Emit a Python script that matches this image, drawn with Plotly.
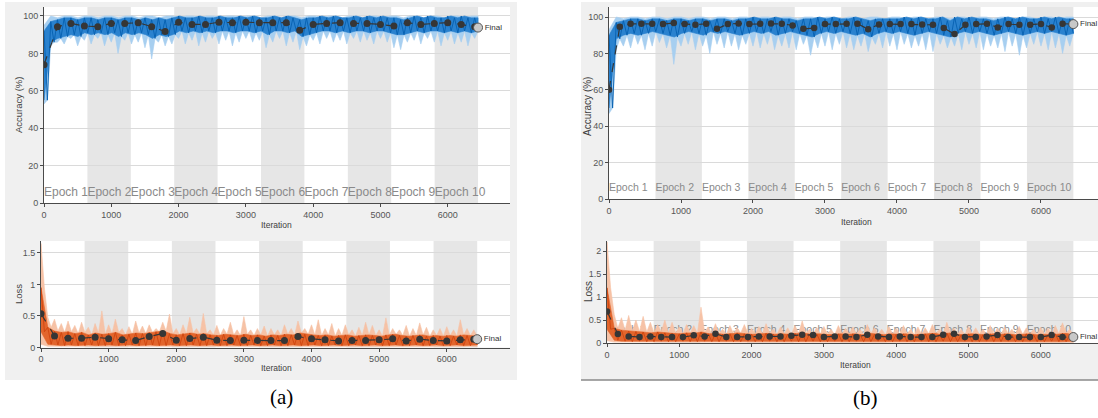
import plotly.graph_objects as go

W, H = 1098, 418
EPOCH_LEN = 645          # iterations per epoch
FINAL_ITER = 6450

epoch_labels = [f"Epoch {i}" for i in range(1, 11)]
x_ticks = [0, 1000, 2000, 3000, 4000, 5000, 6000]
acc_ticks = [0, 20, 40, 60, 80, 100]
loss_ticks_a = [0, 0.5, 1, 1.5]
loss_ticks_b = [0, 0.5, 1, 1.5, 2]

# ---------------- validation points ----------------
val_step_a = 200
val_acc_a = [73.9, 94.3, 96.0, 94.6, 94.3, 96.0, 96.0, 96.4, 94.3, 91.7,
             96.7, 95.5, 95.5, 96.7, 96.4, 96.7, 96.4, 96.4, 96.4, 92.4,
             95.5, 96.0, 96.4, 96.0, 96.0, 95.5, 94.6, 96.4, 95.5, 96.0,
             96.4, 95.5, 94.3]
final_acc_a = 93.8
val_loss_a = [0.537, 0.184, 0.147, 0.147, 0.163, 0.137, 0.121, 0.110, 0.174, 0.221,
              0.116, 0.142, 0.163, 0.116, 0.110, 0.116, 0.110, 0.110, 0.110, 0.174,
              0.137, 0.121, 0.105, 0.110, 0.110, 0.121, 0.137, 0.105, 0.132, 0.110,
              0.105, 0.121, 0.132]
final_loss_a = 0.132

val_step_b = 150
val_acc_b = [60.0, 94.7, 96.3, 96.3, 96.3, 96.1, 96.7, 96.1, 95.7, 96.3,
             93.5, 96.1, 96.5, 96.1, 96.3, 96.5, 96.3, 95.4, 93.5, 93.9,
             96.1, 96.1, 96.3, 96.3, 93.3, 95.9, 96.1, 96.1, 96.1, 95.9,
             95.7, 93.9, 90.6, 95.7, 96.1, 96.3, 94.3, 96.1, 95.7, 95.7,
             96.1, 94.3, 96.3]
final_acc_b = 96.1
val_loss_b = [0.686, 0.195, 0.144, 0.130, 0.144, 0.130, 0.130, 0.130, 0.166, 0.144,
              0.202, 0.130, 0.130, 0.130, 0.144, 0.144, 0.144, 0.159, 0.180, 0.173,
              0.130, 0.144, 0.144, 0.130, 0.180, 0.144, 0.130, 0.144, 0.130, 0.130,
              0.130, 0.180, 0.202, 0.130, 0.130, 0.144, 0.173, 0.130, 0.130, 0.130,
              0.130, 0.173, 0.130]
final_loss_b = 0.130

# ---------------- training envelopes (65 bins over the run) ----------------
acc_a_raw_lo = [53, 84, 86, 85, 88, 84, 87, 85, 88, 84,
                86, 80, 87, 85, 86, 83, 77, 86, 84, 85,
                88, 85, 87, 84, 86, 88, 85, 87, 84, 86,
                88, 86, 87, 83, 86, 88, 84, 86, 82, 84,
                87, 85, 88, 86, 87, 85, 88, 86, 87, 85,
                88, 86, 83, 82, 86, 87, 85, 88, 86, 84,
                87, 85, 86, 84, 88]
acc_a_raw_hi = [95, 100, 99, 100, 100, 99, 100, 100, 99, 100,
                100, 99, 100, 100, 99, 100, 100, 99, 100, 100,
                99, 100, 100, 99, 100, 100, 99, 100, 100, 99,
                100, 100, 99, 100, 100, 99, 100, 100, 99, 100,
                100, 99, 100, 100, 99, 100, 100, 99, 100, 100,
                99, 100, 100, 99, 100, 100, 99, 100, 100, 99,
                100, 100, 99, 100, 100]
acc_a_sm_lo = [55, 86, 88, 89, 90, 89, 91, 90, 91, 90,
               91, 89, 91, 90, 91, 90, 88, 90, 89, 90,
               92, 91, 92, 91, 92, 91, 92, 92, 91, 92,
               92, 91, 92, 90, 92, 92, 91, 92, 89, 90,
               91, 92, 92, 91, 92, 91, 92, 92, 91, 92,
               92, 91, 90, 90, 91, 92, 91, 92, 92, 91,
               92, 91, 92, 91, 92]
acc_a_sm_hi = [92, 97, 98, 99, 99, 98, 99, 99, 98, 99,
               99, 98, 99, 99, 98, 99, 98, 99, 98, 99,
               100, 99, 99, 100, 99, 99, 100, 99, 99, 100,
               99, 100, 99, 99, 100, 99, 100, 99, 98, 99,
               99, 100, 99, 100, 99, 99, 100, 99, 100, 99,
               100, 99, 99, 98, 99, 100, 99, 100, 99, 99,
               100, 99, 100, 99, 99]

loss_a_raw_hi = [1.65, 0.48, 0.45, 0.38, 0.42, 0.35, 0.40, 0.32, 0.38, 0.58,
                 0.36, 0.45, 0.30, 0.33, 0.42, 0.34, 0.36, 0.30, 0.40, 0.53,
                 0.30, 0.36, 0.48, 0.30, 0.54, 0.28, 0.35, 0.30, 0.40, 0.28,
                 0.49, 0.28, 0.30, 0.34, 0.30, 0.28, 0.36, 0.30, 0.42, 0.30,
                 0.36, 0.44, 0.30, 0.38, 0.30, 0.36, 0.28, 0.32, 0.40, 0.35,
                 0.28, 0.47, 0.30, 0.28, 0.35, 0.30, 0.39, 0.32, 0.28, 0.30,
                 0.33, 0.28, 0.44, 0.30, 0.28]
loss_a_raw_lo = [0.05, 0.02, 0.01, 0.02, 0.01, 0.01, 0.02, 0.01, 0.01, 0.02,
                 0.01, 0.01, 0.02, 0.01, 0.01, 0.02, 0.01, 0.01, 0.02, 0.01,
                 0.01, 0.02, 0.01, 0.01, 0.02, 0.01, 0.01, 0.02, 0.01, 0.01,
                 0.02, 0.01, 0.01, 0.02, 0.01, 0.01, 0.02, 0.01, 0.01, 0.02,
                 0.01, 0.01, 0.02, 0.01, 0.01, 0.02, 0.01, 0.01, 0.02, 0.01,
                 0.01, 0.02, 0.01, 0.01, 0.02, 0.01, 0.01, 0.02, 0.01, 0.01,
                 0.02, 0.01, 0.01, 0.02, 0.01]
loss_a_sm_hi = [0.95, 0.32, 0.26, 0.24, 0.25, 0.22, 0.24, 0.20, 0.23, 0.21,
                0.22, 0.24, 0.20, 0.21, 0.23, 0.22, 0.24, 0.25, 0.26, 0.22,
                0.20, 0.22, 0.23, 0.21, 0.22, 0.20, 0.19, 0.21, 0.20, 0.19,
                0.21, 0.19, 0.20, 0.18, 0.20, 0.19, 0.21, 0.20, 0.23, 0.21,
                0.20, 0.19, 0.20, 0.18, 0.19, 0.20, 0.18, 0.19, 0.20, 0.19,
                0.18, 0.20, 0.21, 0.19, 0.18, 0.19, 0.20, 0.18, 0.19, 0.18,
                0.19, 0.18, 0.20, 0.19, 0.18]
loss_a_sm_lo = [0.25, 0.05, 0.04, 0.03, 0.04, 0.03, 0.03, 0.04, 0.03, 0.03,
                0.04, 0.03, 0.03, 0.04, 0.03, 0.03, 0.04, 0.03, 0.03, 0.04,
                0.03, 0.03, 0.04, 0.03, 0.03, 0.04, 0.03, 0.03, 0.04, 0.03,
                0.03, 0.04, 0.03, 0.03, 0.04, 0.03, 0.03, 0.04, 0.03, 0.03,
                0.04, 0.03, 0.03, 0.04, 0.03, 0.03, 0.04, 0.03, 0.03, 0.04,
                0.03, 0.03, 0.04, 0.03, 0.03, 0.04, 0.03, 0.03, 0.04, 0.03,
                0.03, 0.04, 0.03, 0.03, 0.04]

acc_b_raw_lo = [47, 82, 84, 83, 85, 82, 84, 86, 83, 74,
                84, 85, 82, 84, 80, 85, 83, 84, 82, 85,
                84, 83, 85, 82, 84, 83, 82, 85, 79, 83,
                84, 82, 85, 83, 82, 84, 81, 85, 83, 84,
                82, 85, 83, 84, 82, 81, 85, 83, 84, 82,
                85, 83, 82, 84, 83, 81, 84, 79, 83, 85,
                84, 82, 83, 80, 84]
acc_b_raw_hi = [93, 100, 99, 100, 100, 99, 100, 100, 99, 100,
                100, 99, 100, 100, 99, 100, 100, 99, 100, 100,
                99, 100, 100, 99, 100, 100, 99, 100, 100, 99,
                100, 100, 99, 100, 100, 99, 100, 100, 99, 100,
                100, 99, 100, 100, 99, 100, 100, 99, 100, 100,
                99, 100, 100, 99, 100, 100, 99, 100, 100, 99,
                100, 100, 99, 100, 100]
acc_b_sm_lo = [50, 88, 90, 91, 90, 91, 92, 91, 90, 89,
               91, 92, 91, 90, 92, 91, 92, 91, 90, 91,
               92, 91, 92, 90, 91, 92, 91, 90, 89, 91,
               92, 91, 92, 91, 90, 91, 89, 91, 92, 91,
               92, 91, 90, 91, 92, 91, 90, 89, 91, 92,
               91, 92, 91, 90, 91, 92, 91, 90, 91, 92,
               91, 92, 91, 90, 91]
acc_b_sm_hi = [90, 97, 98, 99, 99, 98, 99, 99, 98, 99,
               99, 98, 99, 99, 98, 99, 99, 98, 99, 99,
               100, 99, 99, 100, 99, 99, 98, 99, 99, 100,
               99, 100, 99, 99, 100, 99, 98, 99, 99, 99,
               99, 100, 99, 100, 99, 99, 100, 98, 100, 99,
               100, 99, 99, 98, 99, 100, 99, 100, 99, 99,
               100, 99, 100, 99, 99]

loss_b_raw_hi = [2.20, 0.62, 0.55, 0.60, 0.50, 0.58, 0.45, 0.40, 0.50, 0.45,
                 0.35, 0.40, 0.38, 0.78, 0.35, 0.42, 0.30, 0.38, 0.33, 0.40,
                 0.32, 0.36, 0.42, 0.30, 0.35, 0.33, 0.38, 0.48, 0.30, 0.34,
                 0.36, 0.30, 0.38, 0.32, 0.35, 0.30, 0.40, 0.33, 0.30, 0.36,
                 0.32, 0.38, 0.30, 0.35, 0.33, 0.40, 0.30, 0.45, 0.32, 0.30,
                 0.36, 0.33, 0.30, 0.38, 0.32, 0.35, 0.30, 0.36, 0.33, 0.30,
                 0.34, 0.32, 0.38, 0.44, 0.30]
loss_b_raw_lo = [0.05, 0.02, 0.01, 0.02, 0.01, 0.01, 0.02, 0.01, 0.01, 0.02,
                 0.01, 0.01, 0.02, 0.01, 0.01, 0.02, 0.01, 0.01, 0.02, 0.01,
                 0.01, 0.02, 0.01, 0.01, 0.02, 0.01, 0.01, 0.02, 0.01, 0.01,
                 0.02, 0.01, 0.01, 0.02, 0.01, 0.01, 0.02, 0.01, 0.01, 0.02,
                 0.01, 0.01, 0.02, 0.01, 0.01, 0.02, 0.01, 0.01, 0.02, 0.01,
                 0.01, 0.02, 0.01, 0.01, 0.02, 0.01, 0.01, 0.02, 0.01, 0.01,
                 0.02, 0.01, 0.01, 0.02, 0.01]
loss_b_sm_hi = [1.20, 0.32, 0.28, 0.26, 0.25, 0.24, 0.22, 0.24, 0.22, 0.21,
                0.20, 0.22, 0.21, 0.24, 0.20, 0.21, 0.19, 0.20, 0.22, 0.20,
                0.19, 0.20, 0.21, 0.19, 0.20, 0.19, 0.21, 0.22, 0.19, 0.20,
                0.19, 0.18, 0.20, 0.19, 0.20, 0.18, 0.21, 0.19, 0.18, 0.20,
                0.19, 0.20, 0.18, 0.19, 0.20, 0.21, 0.18, 0.22, 0.19, 0.18,
                0.20, 0.19, 0.18, 0.20, 0.19, 0.20, 0.18, 0.19, 0.20, 0.18,
                0.19, 0.18, 0.20, 0.21, 0.18]
loss_b_sm_lo = [0.30, 0.06, 0.04, 0.03, 0.04, 0.03, 0.03, 0.04, 0.03, 0.03,
                0.04, 0.03, 0.03, 0.04, 0.03, 0.03, 0.04, 0.03, 0.03, 0.04,
                0.03, 0.03, 0.04, 0.03, 0.03, 0.04, 0.03, 0.03, 0.04, 0.03,
                0.03, 0.04, 0.03, 0.03, 0.04, 0.03, 0.03, 0.04, 0.03, 0.03,
                0.04, 0.03, 0.03, 0.04, 0.03, 0.03, 0.04, 0.03, 0.03, 0.04,
                0.03, 0.03, 0.04, 0.03, 0.03, 0.04, 0.03, 0.03, 0.04, 0.03,
                0.03, 0.04, 0.03, 0.03, 0.04]

# ---------------- styles ----------------
C_RAW_ACC = "#a7cff0"
C_SM_ACC = "#2a82cf"
C_TEX_ACC = "#0660b0"
C_RAW_LOSS = "#f6c2a6"
C_SM_LOSS = "#e2652c"
C_TEX_LOSS = "#cf4510"
C_VAL = "#363636"
C_AX = "#4a4a4a"
C_GRID = "#dadada"
C_BAND = "#e6e6e6"
C_PANEL = "#f0f0f0"
C_EPOCH = "#8a8a8a"
FONT = "Liberation Sans, Arial, sans-serif"

N = len(acc_a_raw_lo)
XB = [i * FINAL_ITER / (N - 1) for i in range(N)]            # bin positions
XA = [j * FINAL_ITER / (2 * N - 1) for j in range(2 * N)]    # alternating positions


def alternate(first, second):
    out = []
    for a, b in zip(first, second):
        out += [a, b]
    return out


def polygon(tx, ty, bx, by):
    return list(tx) + list(bx)[::-1] + [tx[0]], list(ty) + list(by)[::-1] + [ty[0]]


fig = go.Figure()

# epoch labels drawn first so the data sits over them
NARROW = "Liberation Sans Narrow, Arial Narrow, Liberation Sans, sans-serif"
epoch_label_specs = [("x", "y", 5.3, 12, FONT),
                     ("x3", "y3", 6.0, 10.5, NARROW),
                     ("x4", "y4", 0.28, 10.5, NARROW)]
for xa, ya, yv, fs, fam in epoch_label_specs:
    fig.add_trace(go.Scatter(
        x=[i * EPOCH_LEN for i in range(10)], y=[yv] * 10, text=epoch_labels,
        mode="text", textposition="middle right", xaxis=xa, yaxis=ya,
        textfont=dict(family=fam, size=fs, color=C_EPOCH), hoverinfo="skip"))

panels = [
    ("x", "y", "acc", acc_a_raw_lo, acc_a_raw_hi, acc_a_sm_lo, acc_a_sm_hi, val_acc_a, val_step_a, final_acc_a, 7),
    ("x2", "y2", "loss", loss_a_raw_lo, loss_a_raw_hi, loss_a_sm_lo, loss_a_sm_hi, val_loss_a, val_step_a, final_loss_a, 7),
    ("x3", "y3", "acc", acc_b_raw_lo, acc_b_raw_hi, acc_b_sm_lo, acc_b_sm_hi, val_acc_b, val_step_b, final_acc_b, 6.5),
    ("x4", "y4", "loss", loss_b_raw_lo, loss_b_raw_hi, loss_b_sm_lo, loss_b_sm_hi, val_loss_b, val_step_b, final_loss_b, 6.5),
]

for xa, ya, kind, raw_lo, raw_hi, sm_lo, sm_hi, val, step, final, msize in panels:
    if kind == "acc":
        c_raw, c_sm, c_tex = C_RAW_ACC, C_SM_ACC, C_TEX_ACC
        # raw band: top = raw maxima, bottom = spikes below the smoothed band
        px_, py_ = polygon(XB, raw_hi, XA, alternate(raw_lo, sm_lo))
    else:
        c_raw, c_sm, c_tex = C_RAW_LOSS, C_SM_LOSS, C_TEX_LOSS
        px_, py_ = polygon(XA, alternate(raw_hi, sm_hi), XB, raw_lo)
    fig.add_trace(go.Scatter(x=px_, y=py_, mode="lines", fill="toself", fillcolor=c_raw,
                             xaxis=xa, yaxis=ya, line=dict(color=c_raw, width=0.6),
                             hoverinfo="skip"))
    sx, sy = polygon(XB, sm_hi, XB, sm_lo)
    fig.add_trace(go.Scatter(x=sx, y=sy, mode="lines", fill="toself", fillcolor=c_sm,
                             xaxis=xa, yaxis=ya, line=dict(color=c_sm, width=0.6),
                             hoverinfo="skip"))
    # texture of the noisy smoothed curve
    fig.add_trace(go.Scatter(x=XA, y=alternate(sm_hi, sm_lo), mode="lines", xaxis=xa, yaxis=ya,
                             line=dict(color=c_tex, width=0.9), hoverinfo="skip"))
    vx = [k * step for k in range(len(val))] + [FINAL_ITER]
    fig.add_trace(go.Scatter(x=vx, y=val + [final], mode="lines+markers", xaxis=xa, yaxis=ya,
                             line=dict(color=C_VAL, width=1.2, dash="dash"),
                             marker=dict(color=C_VAL, size=msize)))
    fig.add_trace(go.Scatter(x=[FINAL_ITER], y=[final], mode="markers+text", text=["Final"],
                             textposition="middle right", xaxis=xa, yaxis=ya,
                             textfont=dict(family=FONT, size=8, color="#333333"),
                             marker=dict(color="#c8c8c8", size=9, line=dict(color="#555555", width=1))))


# ---------------- axes ----------------
def px(v):
    return v / W


def py(v):
    return 1 - v / H


def xaxis(dom, rng, anchor):
    return dict(domain=dom, range=rng, tickvals=x_ticks, ticks="outside", ticklen=3,
                tickcolor=C_AX, showline=True, linecolor=C_AX, linewidth=1,
                showgrid=False, zeroline=False, anchor=anchor, fixedrange=True,
                automargin=False, tickfont=dict(family=FONT, size=9, color="#555555"))


def yaxis(dom, rng, ticks, anchor):
    return dict(domain=dom, range=rng, tickvals=ticks, ticks="outside", ticklen=3,
                tickcolor=C_AX, showline=True, linecolor=C_AX, linewidth=1,
                showgrid=True, gridcolor=C_GRID, gridwidth=1, zeroline=False,
                anchor=anchor, fixedrange=True, automargin=False,
                tickfont=dict(family=FONT, size=9, color="#555555"))


fig.update_layout(
    width=W, height=H, margin=dict(l=0, r=0, t=0, b=0, pad=0),
    paper_bgcolor=C_PANEL, plot_bgcolor="white", showlegend=False,
    xaxis=xaxis([px(44), px(510)], [0, 6925], "y"),
    yaxis=yaxis([py(203), py(7)], [0, 104.8], acc_ticks, "x"),
    xaxis2=xaxis([px(41), px(510)], [0, 6935], "y2"),
    yaxis2=yaxis([py(347.5), py(241)], [0, 1.69], loss_ticks_a, "x2"),
    xaxis3=xaxis([px(609), 1.0], [0, 6792], "y3"),
    yaxis3=yaxis([py(199), py(7)], [0, 105.5], acc_ticks, "x3"),
    xaxis4=xaxis([px(607), 1.0], [0, 6791], "y4"),
    yaxis4=yaxis([py(343), py(241)], [0, 2.22], loss_ticks_b, "x4"),
)

shapes = []
# white surroundings of the two grey panels
for x0, x1, y0, y1 in [(0, 5, 0, H), (0, W, 0, 2), (517, 581, 0, H), (0, W, 380, H)]:
    shapes.append(dict(type="rect", xref="paper", yref="paper", x0=px(x0), x1=px(x1),
                       y0=py(y1), y1=py(y0), fillcolor="white", line=dict(width=0), layer="below"))
shapes.append(dict(type="line", xref="paper", yref="paper", x0=px(581), x1=1, y0=py(380), y1=py(380),
                   line=dict(color="#8a8a8a", width=1.5)))
# shaded even epochs
for xa, ya in [("x", "y"), ("x2", "y2"), ("x3", "y3"), ("x4", "y4")]:
    for e in range(1, 10, 2):
        shapes.append(dict(type="rect", xref=xa, yref=ya + " domain", x0=e * EPOCH_LEN,
                           x1=(e + 1) * EPOCH_LEN, y0=0, y1=1, fillcolor=C_BAND,
                           line=dict(width=0), layer="below"))
fig.update_layout(shapes=shapes)

ann = []


def label(text, x, y, size=9, angle=0, color="#404040", family=FONT):
    ann.append(dict(text=text, x=px(x), y=py(y), xref="paper", yref="paper", showarrow=False,
                    textangle=angle, font=dict(family=family, size=size, color=color),
                    xanchor="center", yanchor="middle"))


label("Accuracy (%)", 18, 105, 9.5, -90)
label("Loss", 18, 294, 9.5, -90)
label("Iteration", 276, 225, 8.5)
label("Iteration", 276, 368, 8.5)
label("Accuracy (%)", 588, 107, 10, -90)
label("Loss", 588, 292, 10, -90)
label("Iteration", 856, 222, 8.5)
label("Iteration", 855, 365, 8.5)
label("(a)", 281, 397, 21, 0, "black", "Liberation Serif, Times New Roman, serif")
label("(b)", 865, 398, 21, 0, "black", "Liberation Serif, Times New Roman, serif")
fig.update_layout(annotations=ann)

fig.write_html("out.html",
               post_script="document.body.style.margin='0';document.body.style.overflow='hidden';")
